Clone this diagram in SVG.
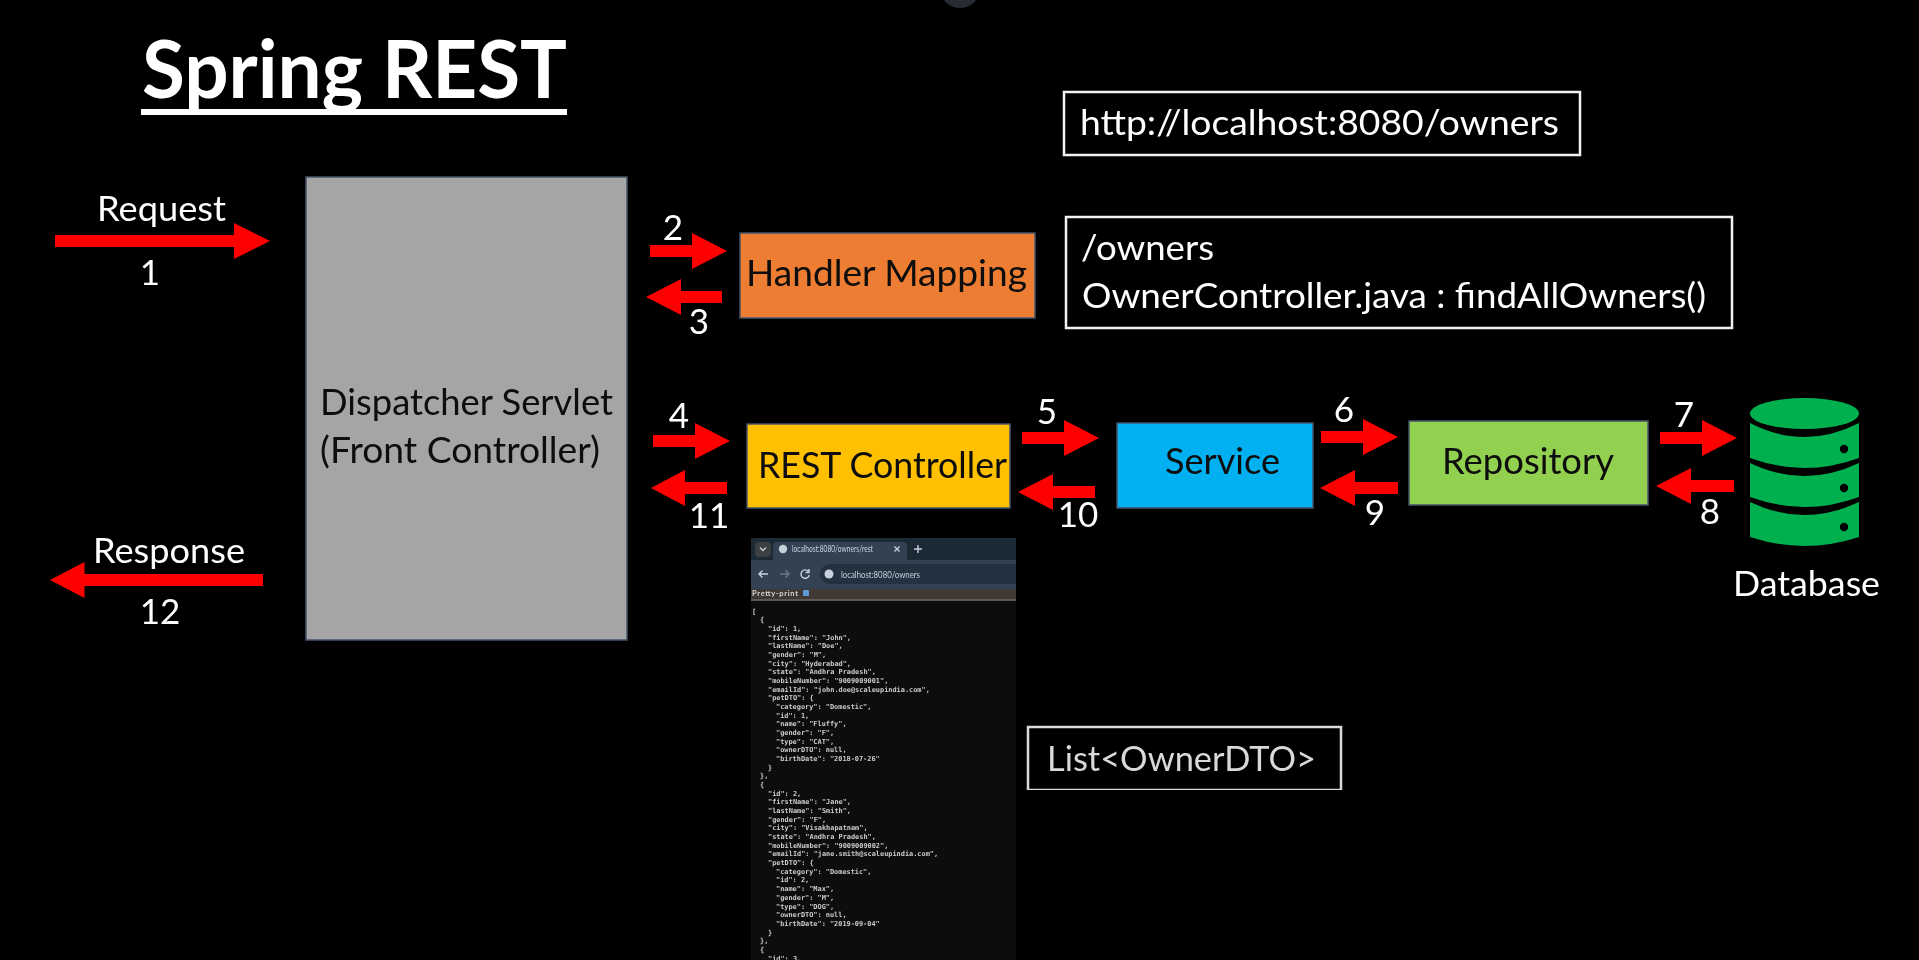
<svg xmlns="http://www.w3.org/2000/svg" width="1919" height="960" viewBox="0 0 1919 960">
<style>
text{font-family:Lato,"Open Sans",sans-serif}
.w{fill:#fff;font-size:35px}
.k{fill:#0c0c0c;font-size:36px}
.n{fill:#fff;font-size:35px;text-anchor:middle}
.box{fill:#000;stroke:#f2f2f2;stroke-width:2.5}
.node{stroke:#44546a;stroke-width:1.5}
.arrow{fill:#ff0000}
.j text{font-family:"DejaVu Sans Mono",monospace;font-size:6.9px;fill:#cccccc;font-weight:bold}
.ui{font-size:8.5px;fill:#c8d2dc}
.ic{fill:none;stroke:#c6d0da;stroke-width:1.4}
</style>
<defs>
<filter id="soft" x="-2%" y="-2%" width="104%" height="104%"><feGaussianBlur stdDeviation="0.6"/></filter>
<filter id="lens" x="0" y="0" width="100%" height="100%"><feGaussianBlur stdDeviation="0.5"/></filter>
</defs>
<rect width="1919" height="960" fill="#000"/>
<circle cx="960" cy="-12" r="20" fill="#252a33"/>

<g filter="url(#lens)">
<g id="title">
<text x="142" y="98" font-size="80" font-weight="700" fill="#fff" textLength="425" lengthAdjust="spacingAndGlyphs">Spring REST</text>
<rect x="141" y="109" width="426" height="6" fill="#fff"/>
</g>

<g id="node-dispatcher">
<rect class="node" x="306" y="177" width="321" height="463" fill="#a5a5a5"/>
<text class="k" x="320" y="415" textLength="293" lengthAdjust="spacingAndGlyphs">Dispatcher Servlet</text>
<text class="k" x="320" y="463" textLength="280" lengthAdjust="spacingAndGlyphs">(Front Controller)</text>
</g>
<g id="node-handler">
<rect class="node" x="740" y="233" width="295" height="85" fill="#ed7d31"/>
<text class="k" x="746" y="286" textLength="281" lengthAdjust="spacingAndGlyphs">Handler Mapping</text>
</g>
<g id="node-rest">
<rect class="node" x="747" y="424" width="263" height="84" fill="#ffc000"/>
<text class="k" x="758" y="478" textLength="249" lengthAdjust="spacingAndGlyphs">REST Controller</text>
</g>
<g id="node-service">
<rect class="node" x="1117" y="423" width="196" height="85" fill="#00b0f0"/>
<text class="k" x="1165" y="474" textLength="115" lengthAdjust="spacingAndGlyphs">Service</text>
</g>
<g id="node-repository">
<rect class="node" x="1409" y="421" width="239" height="84" fill="#92d050"/>
<text class="k" x="1442" y="474" textLength="172" lengthAdjust="spacingAndGlyphs">Repository</text>
</g>
<g id="node-database">
<ellipse cx="1804.5" cy="413.5" rx="54.5" ry="15.5" fill="#00b050"/>
<path d="M1750 423Q1804.5 451 1859 423V458Q1804.5 478 1750 458Z" fill="#00b050"/>
<path d="M1750 463Q1804.5 489 1859 463V497Q1804.5 517 1750 497Z" fill="#00b050"/>
<path d="M1750 502Q1804.5 528 1859 502V537Q1804.5 555 1750 537Z" fill="#00b050"/>
<circle cx="1844" cy="449" r="4.2" fill="#000"/>
<circle cx="1844" cy="488" r="4.2" fill="#000"/>
<circle cx="1844" cy="527" r="4.2" fill="#000"/>
<text class="w" x="1733" y="596" textLength="147" lengthAdjust="spacingAndGlyphs">Database</text>
</g>
<g id="node-url">
<rect class="box" x="1064" y="92" width="516" height="63"/>
<text class="w" x="1080" y="135" textLength="479" lengthAdjust="spacingAndGlyphs">http://localhost:8080/owners</text>
</g>
<g id="node-mapping-info">
<rect class="box" x="1066" y="217" width="666" height="111"/>
<text class="w" x="1081" y="260" textLength="133" lengthAdjust="spacingAndGlyphs">/owners</text>
<text class="w" x="1082" y="308" textLength="624" lengthAdjust="spacingAndGlyphs">OwnerController.java : findAllOwners()</text>
</g>
<g id="node-list">
<rect class="box" x="1028" y="727" width="313" height="63" style="stroke:#d9d9d9"/>
<text class="w" x="1047" y="771" textLength="269" lengthAdjust="spacingAndGlyphs" style="fill:#d9d9d9">List&lt;OwnerDTO&gt;</text>
</g>

<g id="connectors">
<path class="arrow" d="M55 235H234V223L270 241 234 259V247H55Z"/>
<path class="arrow" d="M650 245H692V233L727 251 692 269V257H650Z"/>
<path class="arrow" d="M722 291H681V279L646 297 681 315V303H722Z"/>
<path class="arrow" d="M653 435H695V423L730 441 695 459V447H653Z"/>
<path class="arrow" d="M1022 432H1064V420L1099 438 1064 456V444H1022Z"/>
<path class="arrow" d="M1321 431H1363V419L1398 437 1363 455V443H1321Z"/>
<path class="arrow" d="M1660 432H1702V420L1737 438 1702 456V444H1660Z"/>
<path class="arrow" d="M1734 480H1691V468L1656 486 1691 504V492H1734Z"/>
<path class="arrow" d="M1398 482H1355V470L1320 488 1355 506V494H1398Z"/>
<path class="arrow" d="M1095 486H1053V474L1018 492 1053 510V498H1095Z"/>
<path class="arrow" d="M727 482H685V470L651 488 685 506V494H727Z"/>
<path class="arrow" d="M263 574H84.5V562L50 580 84.5 598V586H263Z"/>
</g>

<g id="labels">
<text class="w" x="97" y="221" textLength="129" lengthAdjust="spacingAndGlyphs">Request</text>
<text class="w" x="93" y="563" textLength="152" lengthAdjust="spacingAndGlyphs">Response</text>
<text class="n" x="150" y="285">1</text>
<text class="n" x="673" y="240">2</text>
<text class="n" x="699" y="334">3</text>
<text class="n" x="679" y="428">4</text>
<text class="n" x="1047" y="424">5</text>
<text class="n" x="1344" y="422">6</text>
<text class="n" x="1684" y="427">7</text>
<text class="n" x="1710" y="524">8</text>
<text class="n" x="1375" y="525">9</text>
<text class="n" x="1078" y="527">10</text>
<text class="n" x="709" y="528">11</text>
<text class="n" x="160" y="624">12</text>
</g>
</g>

<g id="node-browser" filter="url(#soft)">
<rect x="751" y="538" width="265" height="422" fill="#0e0e0e"/>
<rect x="751" y="538" width="265" height="22" fill="#1e2a36"/>
<rect x="755" y="542" width="16" height="15" rx="4" fill="#3c3f42"/>
<path d="M773 560V546q0-4 4-4H903q4 0 4 4V560Z" fill="#304253"/>
<rect x="751" y="560" width="265" height="29" fill="#304253"/>
<path d="M830 564H1016V584H830a10 10 0 0 1 0-20Z" fill="#20313f"/>
<rect x="751" y="589" width="265" height="10" fill="#3f3932"/>
<rect x="751" y="599" width="265" height="2" fill="#5a5a5a"/>
<path class="ic" d="M760 547.5l3 3 3-3"/>
<circle cx="783" cy="549" r="4.2" fill="#c6d0da"/>
<text class="ui" x="792" y="552" textLength="81" lengthAdjust="spacingAndGlyphs">localhost:8080/owners/rest</text>
<path class="ic" d="M894.5 546.5l5 5m0-5l-5 5M914 549h8m-4-4v8"/>
<path class="ic" d="M768 574h-9m3.5-3.5l-3.5 3.5 3.5 3.5"/>
<path class="ic" opacity="0.4" d="M780 574h9m-3.5-3.5l3.5 3.5-3.5 3.5"/>
<path class="ic" d="M808.5 571.5a4.2 4.2 0 1 0 .8 3.5M809 569v3.5h-3.5"/>
<circle cx="829" cy="574" r="4.5" fill="#c6d0da"/>
<text class="ui" x="841" y="577.5" textLength="79" lengthAdjust="spacingAndGlyphs">localhost:8080/owners</text>
<text x="752" y="596" font-family="DejaVu Sans Mono,monospace" font-weight="700" font-size="7.5" fill="#d6d6d6" textLength="46">Pretty-print</text>
<rect x="803" y="590" width="6" height="6" rx="1" fill="#5b9bdc"/>
<g class="j">
<text x="752" y="613.5">[</text>
<text x="760" y="622.2">{</text>
<text x="768" y="630.9">"id": 1,</text>
<text x="768" y="639.5">"firstName": "John",</text>
<text x="768" y="648.2">"lastName": "Doe",</text>
<text x="768" y="656.9">"gender": "M",</text>
<text x="768" y="665.6">"city": "Hyderabad",</text>
<text x="768" y="674.2">"state": "Andhra Pradesh",</text>
<text x="768" y="682.9">"mobileNumber": "9009009001",</text>
<text x="768" y="691.6">"emailId": "john.doe@scaleupindia.com",</text>
<text x="768" y="700.3">"petDTO": {</text>
<text x="776" y="708.9">"category": "Domestic",</text>
<text x="776" y="717.6">"id": 1,</text>
<text x="776" y="726.3">"name": "Fluffy",</text>
<text x="776" y="735">"gender": "F",</text>
<text x="776" y="743.6">"type": "CAT",</text>
<text x="776" y="752.3">"ownerDTO": null,</text>
<text x="776" y="761">"birthDate": "2018-07-26"</text>
<text x="768" y="769.7">}</text>
<text x="760" y="778.3">},</text>
<text x="760" y="787">{</text>
<text x="768" y="795.7">"id": 2,</text>
<text x="768" y="804.4">"firstName": "Jane",</text>
<text x="768" y="813">"lastName": "Smith",</text>
<text x="768" y="821.7">"gender": "F",</text>
<text x="768" y="830.4">"city": "Visakhapatnam",</text>
<text x="768" y="839.1">"state": "Andhra Pradesh",</text>
<text x="768" y="847.7">"mobileNumber": "9009009002",</text>
<text x="768" y="856.4">"emailId": "jane.smith@scaleupindia.com",</text>
<text x="768" y="865.1">"petDTO": {</text>
<text x="776" y="873.8">"category": "Domestic",</text>
<text x="776" y="882.4">"id": 2,</text>
<text x="776" y="891.1">"name": "Max",</text>
<text x="776" y="899.8">"gender": "M",</text>
<text x="776" y="908.5">"type": "DOG",</text>
<text x="776" y="917.1">"ownerDTO": null,</text>
<text x="776" y="925.8">"birthDate": "2019-09-04"</text>
<text x="768" y="934.5">}</text>
<text x="760" y="943.2">},</text>
<text x="760" y="951.8">{</text>
<text x="768" y="960.5">"id": 3,</text>
</g>
</g>
</svg>
